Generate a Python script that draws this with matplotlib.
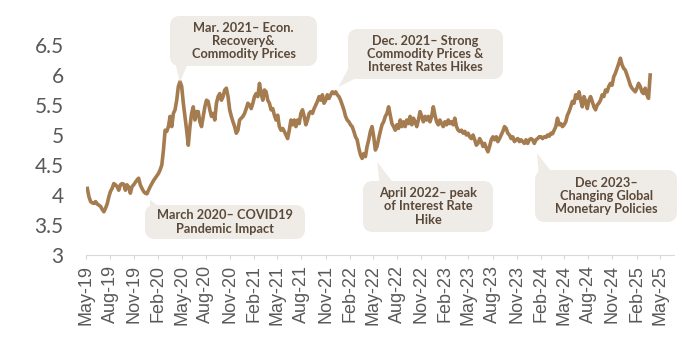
import matplotlib
matplotlib.use("Agg")
import matplotlib.pyplot as plt
import matplotlib.dates as mdates
from matplotlib.patches import FancyBboxPatch, Polygon
from matplotlib.transforms import IdentityTransform
import numpy as np
import pandas as pd

plt.rcParams['font.family'] = ['Lato', 'DejaVu Sans']

# weekly readings of the series, May 2019 -> Mar 2025
rate = [
    4.11, 3.97, 3.89, 3.87, 3.86, 3.89, 3.85, 3.83, 3.81, 3.76,
    3.72, 3.78, 3.85, 3.97, 4.06, 4.11, 4.19, 4.17, 4.14, 4.08,
    4.17, 4.19, 4.18, 4.08, 4.17, 4.13, 4.03, 4.14, 4.17, 4.21,
    4.25, 4.28, 4.17, 4.11, 4.06, 4.03, 4.02, 4.08, 4.14, 4.19,
    4.24, 4.28, 4.32, 4.36, 4.42, 4.50, 4.75, 5.08, 5.06, 5.14,
    5.31, 5.14, 5.36, 5.42, 5.58, 5.81, 5.89, 5.81, 5.53, 5.31,
    5.08, 4.83, 5.14, 5.36, 5.47, 5.25, 5.39,
    5.39, 5.22, 5.14, 5.31, 5.47, 5.58, 5.56, 5.42, 5.31, 5.36,
    5.25, 5.53, 5.64, 5.69, 5.58, 5.64, 5.75, 5.78, 5.64, 5.42,
    5.31, 5.22, 5.14, 5.03, 5.08, 5.25, 5.28, 5.31, 5.36, 5.44,
    5.53, 5.50, 5.44, 5.53, 5.64, 5.69, 5.64, 5.86, 5.69, 5.58,
    5.75, 5.72, 5.58, 5.53, 5.42, 5.44, 5.33, 5.25, 5.33, 5.14,
    5.08, 5.11, 5.06, 5.00, 4.94, 5.08, 5.25, 5.17, 5.25, 5.14,
    5.25, 5.19, 5.36, 5.42, 5.31, 5.17, 5.25, 5.36, 5.39,
    5.36, 5.44, 5.50, 5.56, 5.64, 5.58, 5.67, 5.53, 5.58, 5.67,
    5.61, 5.67, 5.72, 5.69, 5.72, 5.67, 5.64, 5.58, 5.50, 5.42,
    5.31, 5.25, 5.22, 5.17, 5.14, 5.06, 4.97, 4.92, 4.78, 4.67,
    4.61, 4.69, 4.64, 4.81, 4.92, 5.06, 5.14, 4.97, 4.75, 4.81,
    4.94, 5.06, 5.17, 5.22, 5.31, 5.36, 5.47, 5.33, 5.19, 5.14,
    5.08, 5.17, 5.11, 5.25, 5.14, 5.22, 5.14, 5.25, 5.19, 5.31,
    5.17, 5.28, 5.22, 5.14, 5.25, 5.39, 5.31, 5.22, 5.31,
    5.25, 5.31, 5.22, 5.31, 5.47, 5.33, 5.22, 5.17, 5.25, 5.19,
    5.14, 5.22, 5.17, 5.25, 5.19, 5.22, 5.17, 5.28, 5.14, 5.08,
    5.06, 5.08, 5.03, 5.06, 5.00, 5.03, 4.97, 4.94, 5.00, 4.92,
    4.83, 4.86, 4.94, 4.89, 4.81, 4.86, 4.78, 4.72, 4.81, 4.92,
    4.97, 4.92, 4.97, 4.89, 4.94, 5.00, 5.06, 5.14, 5.11, 5.03,
    5.00, 4.94, 4.97, 4.89, 4.92, 4.94, 4.89, 4.92, 4.89, 4.86,
    4.92, 4.86, 4.92, 4.94, 4.92, 4.86, 4.92, 4.94, 4.97,
    4.97, 4.94, 4.97, 4.96, 5.00, 4.98, 5.03, 5.02, 5.08, 5.14,
    5.28, 5.17, 5.19, 5.14, 5.17, 5.22, 5.33, 5.39, 5.47, 5.56,
    5.53, 5.67, 5.61, 5.72, 5.58, 5.47, 5.64, 5.56, 5.44, 5.58,
    5.64, 5.56, 5.47, 5.42, 5.50, 5.53, 5.58, 5.67, 5.64, 5.75,
    5.72, 5.81, 5.86, 5.83, 5.97, 6.03, 6.11, 6.19, 6.28, 6.17,
    6.11, 6.08, 6.00, 5.92, 5.83, 5.78, 5.75, 5.72, 5.78, 5.86,
    5.81, 5.72, 5.69, 5.78, 5.67, 5.61, 6.00,
]
first_date, last_date = '2019-05-06', '2025-03-25'
tick_dates = pd.date_range('2019-05-01', '2025-05-01', freq='3MS')
y_ticks = [3, 3.5, 4, 4.5, 5, 5.5, 6, 6.5]

notes = [
    "Mar. 2021\u2013 Econ.\nRecovery&\nCommodity Prices",
    "Dec. 2021\u2013 Strong\nCommodity Prices &\nInterest Rates Hikes",
    "April 2022\u2013 peak\nof Interest Rate\nHike",
    "Dec 2023\u2013\nChanging Global\nMonetary Policies",
    "March 2020\u2013 COVID19\nPandemic Impact",
]
note_dates = ['2020-04-24', '2021-12-20', '2022-05-18', '2024-01-18', '2019-12-31']
note_values = [5.88, 5.80, 4.55, 4.70, 3.92]

# callout boxes in pixels from the top left: (left, top, right, bottom)
boxes = [(170, 16, 317, 66), (348, 29, 503, 79), (363, 181, 493, 232),
         (535, 170, 677, 222), (145, 205, 305, 239)]
# where each tail joins its box (two base points, inside the box)
tails = [((174, 58), (190, 58)), ((352, 62), (364, 74)), ((380, 188), (397, 188)),
         ((539, 178), (556, 178)), ((150, 212), (166, 212))]

LINE = '#a57b50'
BOX = '#efebe6'
NOTE_TXT = '#5a4939'
GREY = '#595959'
W, H = 684, 340

fig = plt.figure(figsize=(W / 100, H / 100), dpi=100)
ax = fig.add_axes([86 / W, 85 / H, 588 / W, 210 / H])

dates = pd.date_range(first_date, last_date, periods=len(rate))
ax.plot(dates, rate, color=LINE, lw=2.6, solid_joinstyle='round', zorder=3)

ax.set_ylim(3, 6.5)
ax.set_xlim(pd.Timestamp('2019-05-01'), pd.Timestamp('2025-06-24'))
ax.set_yticks(y_ticks)
ax.set_yticklabels(['{:g}'.format(v) for v in y_ticks], fontsize=15, color=GREY)
ax.set_xticks(tick_dates)
ax.set_xticklabels([d.strftime('%b-%y') for d in tick_dates], rotation=90,
                   fontsize=13, color=GREY, family='Liberation Sans')
ax.tick_params(axis='y', length=0, pad=16)
ax.tick_params(axis='x', length=3, color='#d9d9d9', width=0.8, pad=4)
for s in ['top', 'right', 'left']:
    ax.spines[s].set_visible(False)
ax.spines['bottom'].set_color('#d9d9d9')
ax.spines['bottom'].set_linewidth(0.8)

# speech-bubble notes
for txt, d, v, (x0, y0, x1, y1), (b1, b2) in zip(notes, note_dates, note_values, boxes, tails):
    tip = ax.transData.transform((mdates.date2num(pd.Timestamp(d)), v))
    fig.add_artist(FancyBboxPatch((x0, H - y1), x1 - x0, y1 - y0,
                                  boxstyle='round,pad=0,rounding_size=10',
                                  fc=BOX, ec='none', transform=IdentityTransform()))
    fig.add_artist(Polygon([(b1[0], H - b1[1]), tuple(tip), (b2[0], H - b2[1])],
                           closed=True, fc=BOX, ec='none', transform=IdentityTransform()))
    fig.text((x0 + x1) / 2 / W, 1 - (y0 + y1) / 2 / H, txt, ha='center', va='center',
             fontsize=9.2, fontweight='bold', color=NOTE_TXT, linespacing=1.12)

fig.savefig('out.png', dpi=100)
